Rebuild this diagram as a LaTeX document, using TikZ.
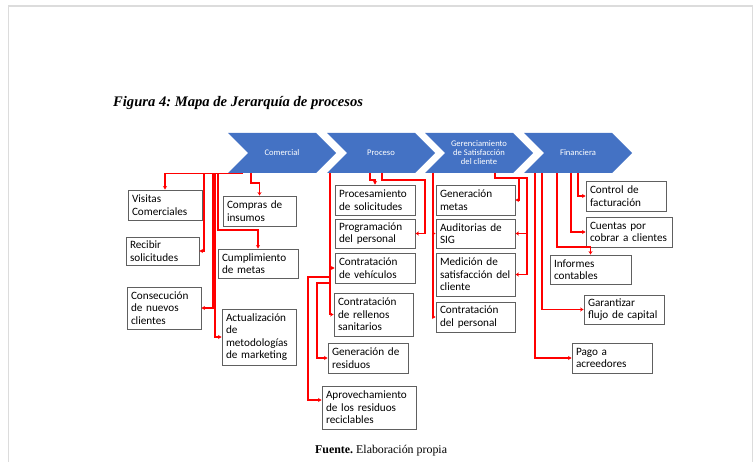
\documentclass[tikz,border=0pt]{standalone}
\usepackage{fontspec}
\setmainfont{Liberation Serif}
\newfontfamily\boxfont{Carlito}
\usetikzlibrary{arrows.meta}
\definecolor{chev}{HTML}{4472C4}
\definecolor{boxline}{HTML}{606060}
\definecolor{conred}{HTML}{FF0000}
\definecolor{pageline}{HTML}{DCDCDC}
\frenchspacing
\newcommand\mkbox[6]{%
  \pgfmathsetmacro\bw{#4-#2}\pgfmathsetmacro\bh{#5-#3}\pgfmathsetmacro\tw{#4-#2-8}%
  \pgfmathsetmacro\cx{(#2+#4)/2}\pgfmathsetmacro\cy{(#3+#5)/2}%
  \node[box, minimum width=\bw pt, minimum height=\bh pt, text width=\tw pt] (#1) at (\cx,\cy) {#6};}
\newcommand\mkchev[3]{%
  \fill[chev] (#2,133) -- ++(88,0) -- ++(20,20) -- ++(-20,20) -- ++(-88,0) -- ++(20,-20) -- cycle;
  \node[ctext] (#1) at (#2+54,152.5) {#3};}
\begin{document}
\begin{tikzpicture}[x=1pt,y=-1pt,
  box/.style={draw=boxline, line width=0.9pt, fill=white, inner xsep=4pt, inner ysep=1pt,
    align=left, font=\boxfont\fontsize{11.2}{12.4}\selectfont, anchor=center},
  conn/.style={draw=conred, line width=1.2pt, -{Stealth[length=3.5pt,width=4pt]}},
  ctext/.style={text=white, font=\boxfont\fontsize{8.6}{8.6}\selectfont, align=center, inner sep=0pt}]
\useasboundingbox (0,0) rectangle (754,462);
\draw[pageline, line width=1.5pt] (8.5,462) -- (8.5,6) -- (752.5,6) -- (752.5,462);
\node[anchor=base west, inner sep=0pt, font=\bfseries\itshape\fontsize{14.6}{16}\selectfont] (title) at (113,107) {Figura 4: Mapa de Jerarquía de procesos};
\node[anchor=base west, inner sep=0pt, font=\fontsize{11.9}{13}\selectfont] (src) at (315,453) {\textbf{Fuente.} Elaboración propia};
% chevrons
\mkchev{com}{228}{Comercial}
\mkchev{pro}{327}{Proceso}
\mkchev{ger}{425}{Gerenciamiento\\de Satisfacción\\del cliente}
\mkchev{fin}{524}{Financiera}
% boxes
\mkbox{vis}{128}{190}{202}{220}{Visitas\\Comerciales}
\mkbox{comp}{223}{196}{296}{226}{Compras de\\insumos}
\mkbox{rec}{126}{237}{199}{265}{Recibir\\solicitudes}
\mkbox{cump}{218}{249}{298}{278}{Cumplimiento\\de metas}
\mkbox{cons}{127}{287}{201}{329}{Consecución\\de nuevos\\clientes}
\mkbox{act}{222}{309}{296}{365}{Actualización\\de\\metodologías\\de marketing}
\mkbox{procs}{335}{185}{415}{215}{Procesamiento\\de solicitudes}
\mkbox{prog}{335}{219}{415}{248}{Programación\\del personal}
\mkbox{veh}{335}{253}{415}{283}{Contratación\\de vehículos}
\mkbox{rell}{334}{293}{413}{336}{Contratación\\de rellenos\\sanitarios}
\mkbox{res}{328}{343}{408}{373}{Generación de\\residuos}
\mkbox{apr}{322}{386}{416}{429}{Aprovechamiento\\de los residuos\\reciclables}
\mkbox{gmet}{436}{185}{515}{215}{Generación\\metas}
\mkbox{aud}{436}{219}{515}{248}{Auditorias de\\SIG}
\mkbox{med}{436}{253}{515}{296}{Medición de\\satisfacción del\\cliente}
\mkbox{cper}{436}{302}{515}{332}{Contratación\\del personal}
\mkbox{ctrl}{586}{181}{666}{211}{Control de\\facturación}
\mkbox{cue}{586}{217}{672}{247}{Cuentas por\\cobrar a clientes}
\mkbox{inf}{550}{255}{631}{284}{Informes\\contables}
\mkbox{gar}{584}{295}{664}{324}{Garantizar\\flujo de capital}
\mkbox{pago}{572}{343}{652}{373}{Pago a\\acreedores}
% connectors: Comercial
\draw[conn] (243,173.5) -| (vis.north);
\draw[conn] (204,173.5) |- (rec.east);
\draw[conn] (213,173.5) |- (cons.east);
\draw[conn] (215,173.5) |- (act.west);
\draw[conn] (218,173.5) |- (258,230) -| (cump.north);
\draw[conn] (251,173.5) |- (259.5,183) -| (comp.north);
% Proceso
\draw[conn] (330,173.5) |- (veh.west);
\draw[conn] (330,173.5) |- (rell.west);
\draw[conn] (330,277) -| (308,400) -- ([yshift=7.5pt]apr.west);
\draw[conn] (330,283) -| (317,358) -- (res.west);
\draw[conn] (370,173.5) |- (375,180) -| (procs.north);
\draw[conn] (382,173.5) |- (425,180) |- (prog.east);
% Gerenciamiento
\draw[conn] (433,173.5) |- (aud.west);
\draw[conn] (433,173.5) |- (cper.west);
\draw[conn] (495,173.5) |- (519,178) |- (gmet.east);
\draw[conn] (495,173.5) |- (527,178) |- (aud.east);
\draw[conn] (527,178) |- (med.east);
% Financiera
\draw[conn] (535,173.5) |- (pago.west);
\draw[conn] (542,173.5) |- (gar.west);
\draw[conn] (557,173.5) |- (590.5,247) -| (inf.north);
\draw[conn] (571,173.5) |- (cue.west);
\draw[conn] (578,173.5) |- (ctrl.west);
\end{tikzpicture}
\end{document}
